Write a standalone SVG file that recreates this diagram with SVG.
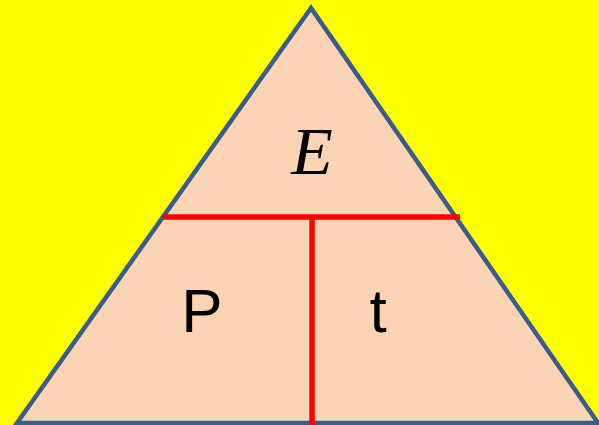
<svg xmlns="http://www.w3.org/2000/svg" width="599" height="425" viewBox="0 0 599 425">
<style>
.lbl{fill:#000;text-anchor:middle}
.sans{font-family:"Liberation Sans","DejaVu Sans",sans-serif;font-size:62px}
.ital{font-family:"Liberation Serif","DejaVu Serif",serif;font-style:italic;font-size:68px}
.div{stroke:#FF0000;stroke-width:5.5;fill:none}
</style>
<rect x="0" y="0" width="599" height="425" fill="#FFFF00"/>
<g id="triangle">
<polygon points="311,8 17,423 598,423" fill="#FBD4B4" stroke="#385D8A" stroke-width="4.5" stroke-linejoin="miter"/>
</g>
<g id="connectors">
<line class="div" x1="163" y1="217" x2="460" y2="217"/>
<line class="div" x1="312" y1="217" x2="312" y2="425"/>
</g>
<g id="node-E"><text class="lbl ital" x="312" y="174">E</text></g>
<g id="node-P"><text class="lbl sans" x="202" y="332">P</text></g>
<g id="node-t"><text class="lbl sans" x="378" y="332">t</text></g>
</svg>
